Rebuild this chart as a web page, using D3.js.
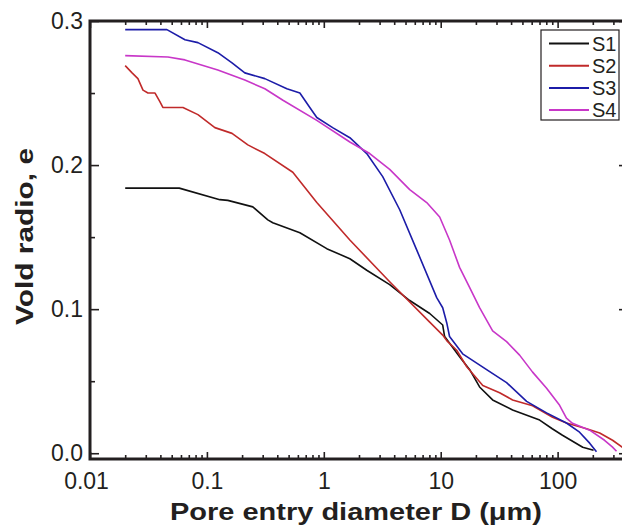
<!DOCTYPE html>
<html>
<head>
<meta charset="utf-8">
<script src="https://cdn.jsdelivr.net/npm/d3@7"></script>
<style>
  body { margin: 0; background: #fff; }
  svg { display: block; font-family: "Liberation Sans", Arial, sans-serif; }
</style>
</head>
<body>
<div id="chart"></div>
<script>
// series names / colours
const seriesNames = ["S1", "S2", "S3", "S4"];
const seriesColors = ["#111111", "#c02a2a", "#1c1ca8", "#c837c8"];

// values: [pore entry diameter D (um), void ratio e]
const s1 = [[0.02,0.184],[0.058,0.184],[0.129,0.176],[0.151,0.1755],[0.247,0.171],[0.332,0.162],
  [0.366,0.160],[0.624,0.153],[1.06,0.142],[1.67,0.135],[2.33,0.127],[3.66,0.117],[5.43,0.106],
  [8.05,0.097],[10.4,0.089],[10.8,0.081],[14.5,0.067],[17.7,0.058],[21.5,0.046],[27.8,0.037],
  [41.2,0.030],[70.2,0.023],[90,0.017],[110,0.0125],[164,0.0042],[203,0.002]];
const s2 = [[0.02,0.269],[0.0229,0.264],[0.0257,0.260],[0.0284,0.252],[0.0313,0.250],[0.036,0.250],
  [0.0396,0.244],[0.042,0.240],[0.0624,0.240],[0.0838,0.235],[0.117,0.226],[0.164,0.222],
  [0.224,0.214],[0.313,0.208],[0.543,0.195],[0.871,0.174],[1.67,0.148],[3.66,0.119],
  [8.05,0.091],[10.4,0.082],[11.3,0.078],[13.7,0.0715],[16.7,0.060],[22.9,0.047],[31.9,0.042],
  [41.2,0.037],[61.1,0.033],[90.6,0.025],[119,0.021],[177,0.017],[229,0.014],[295,0.009],[360,0.004]];
const s3 = [[0.02,0.294],[0.0455,0.294],[0.0649,0.287],[0.0838,0.285],[0.124,0.278],[0.164,0.271],
  [0.211,0.264],[0.313,0.260],[0.483,0.253],[0.624,0.250],[0.759,0.240],[0.871,0.233],[1.19,0.226],
  [1.67,0.219],[2.33,0.208],[3.19,0.192],[4.46,0.169],[6.24,0.141],[9.24,0.108],[10.4,0.101],
  [11.3,0.090],[11.9,0.081],[15.4,0.069],[24.7,0.058],[36.6,0.049],[54.3,0.036],[80.5,0.028],
  [119,0.021],[154,0.0146],[188,0.007],[215,0.001]];
const s4 = [[0.02,0.276],[0.0464,0.275],[0.0649,0.273],[0.124,0.266],[0.211,0.259],[0.313,0.253],
  [0.447,0.245],[0.871,0.231],[1.67,0.216],[2.47,0.208],[3.66,0.197],[5.43,0.183],[7.59,0.174],
  [9.8,0.164],[11.9,0.148],[14.5,0.129],[17.7,0.115],[21.5,0.101],[27.8,0.085],[36.6,0.0775],
  [47.3,0.0681],[61.1,0.0563],[80.5,0.0451],[104,0.0333],[119,0.0243],[134,0.0208],[188,0.016],
  [252,0.009],[295,0.0042],[319,0.0014]];

// tick labels
const xTickValues = [0.01, 0.1, 1, 10, 100];
const xTickLabels = ["0.01", "0.1", "1", "10", "100"];
const yTickValues = [0.0, 0.1, 0.2, 0.3];
const yTickLabels = ["0.0", "0.1", "0.2", "0.3"];
const yMinorValues = [0.05, 0.15, 0.25];

const xTitle = "Pore entry diameter D (\u03bcm)";
const yTitle = "Vold radio, e";

const width = 622;
const height = 529;
const ink = "#231f20";

const svg = d3.select("#chart")
    .append("svg")
    .attr("width", width)
    .attr("height", height);

// scales
const xScale = d3.scaleLog()
    .domain([0.01, 400])
    .range([90, 628]);

const yScale = d3.scaleLinear()
    .domain([-0.004, 0.3])
    .range([459, 21]);

const [x0, x1] = xScale.range();
const [y0, y1] = yScale.range();

// minor log ticks
const xMinor = [];
for (let dec = 0.01; dec < 400; dec *= 10) {
    for (let m = 2; m <= 9; m++) {
        const v = +(dec * m).toPrecision(3);
        if (v < 400) xMinor.push(v);
    }
}

function styleAxis(g) {
    g.select(".domain").remove();
    g.selectAll("line").attr("stroke", ink).attr("stroke-width", 1.6);
    g.selectAll("text")
        .attr("fill", ink)
        .style("font-size", "23px")
        .style("font-family", "'Liberation Sans', Arial, sans-serif");
}

// bottom axis
svg.append("g")
    .attr("transform", `translate(0,${y0})`)
    .call(d3.axisBottom(xScale).tickValues(xMinor).tickSizeInner(-4).tickSizeOuter(0).tickFormat(""))
    .call(styleAxis);

const xAxisG = svg.append("g")
    .attr("transform", `translate(0,${y0})`)
    .call(d3.axisBottom(xScale).tickValues(xTickValues).tickSizeInner(-7).tickSizeOuter(0)
        .tickPadding(14).tickFormat((d, i) => xTickLabels[i]))
    .call(styleAxis);
xAxisG.selectAll("text").filter((d, i) => i === 0).attr("dx", -4);

// top axis (ticks only)
svg.append("g")
    .attr("transform", `translate(0,${y1})`)
    .call(d3.axisTop(xScale).tickValues(xMinor).tickSizeInner(-4).tickSizeOuter(0).tickFormat(""))
    .call(styleAxis);
svg.append("g")
    .attr("transform", `translate(0,${y1})`)
    .call(d3.axisTop(xScale).tickValues(xTickValues).tickSizeInner(-7).tickSizeOuter(0).tickFormat(""))
    .call(styleAxis);

// left axis
svg.append("g")
    .attr("transform", `translate(${x0},0)`)
    .call(d3.axisLeft(yScale).tickValues(yTickValues).tickSizeInner(-9).tickSizeOuter(0)
        .tickPadding(7).tickFormat((d, i) => yTickLabels[i]))
    .call(styleAxis);
svg.append("g")
    .attr("transform", `translate(${x0},0)`)
    .call(d3.axisLeft(yScale).tickValues(yMinorValues).tickSizeInner(-5).tickSizeOuter(0).tickFormat(""))
    .call(styleAxis);

// right axis (ticks only)
svg.append("g")
    .attr("transform", `translate(${x1},0)`)
    .call(d3.axisRight(yScale).tickValues(yTickValues).tickSizeInner(-9).tickSizeOuter(0).tickFormat(""))
    .call(styleAxis);
svg.append("g")
    .attr("transform", `translate(${x1},0)`)
    .call(d3.axisRight(yScale).tickValues(yMinorValues).tickSizeInner(-5).tickSizeOuter(0).tickFormat(""))
    .call(styleAxis);

// frame
svg.append("rect")
    .attr("x", x0)
    .attr("y", y1)
    .attr("width", x1 - x0)
    .attr("height", y0 - y1)
    .attr("fill", "none")
    .attr("stroke", ink)
    .attr("stroke-width", 3);

// curves
const line = d3.line()
    .x(d => xScale(d[0]))
    .y(d => yScale(d[1]));

[s1, s2, s3, s4].forEach((data, i) => {
    svg.append("path")
        .datum(data)
        .attr("fill", "none")
        .attr("stroke", seriesColors[i])
        .attr("stroke-width", 1.6)
        .attr("stroke-linejoin", "round")
        .attr("d", line);
});

// axis titles
svg.append("text")
    .attr("x", 356)
    .attr("y", 520)
    .attr("text-anchor", "middle")
    .attr("textLength", 372)
    .attr("lengthAdjust", "spacingAndGlyphs")
    .attr("fill", ink)
    .style("font-size", "23px")
    .style("font-weight", "bold")
    .text(xTitle);

svg.append("text")
    .attr("transform", "translate(33,236.5) rotate(-90)")
    .attr("text-anchor", "middle")
    .attr("textLength", 177)
    .attr("lengthAdjust", "spacingAndGlyphs")
    .attr("fill", ink)
    .style("font-size", "24px")
    .style("font-weight", "bold")
    .text(yTitle);

// legend
const legend = svg.append("g");
legend.append("rect")
    .attr("x", 541)
    .attr("y", 30)
    .attr("width", 78)
    .attr("height", 90)
    .attr("fill", "#fff")
    .attr("stroke", ink)
    .attr("stroke-width", 1.2);

seriesNames.forEach((name, i) => {
    const ly = 43.5 + i * 22.2;
    legend.append("line")
        .attr("x1", 549)
        .attr("x2", 589)
        .attr("y1", ly)
        .attr("y2", ly)
        .attr("stroke", seriesColors[i])
        .attr("stroke-width", 2);
    legend.append("text")
        .attr("x", 592)
        .attr("y", ly + 7)
        .attr("fill", ink)
        .style("font-size", "20px")
        .text(name);
});
</script>
</body>
</html>
